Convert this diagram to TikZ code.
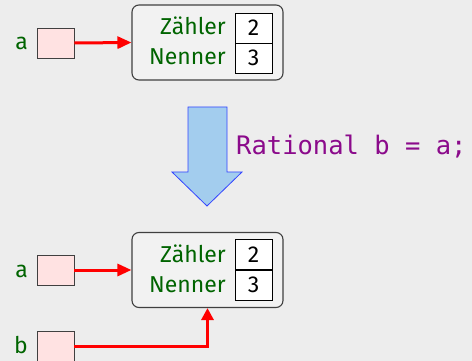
\documentclass[tikz,border=0pt]{standalone}
\usepackage{fontspec}
\setsansfont{Fira Sans}
\setmonofont{DejaVu Sans Mono}
\usetikzlibrary{arrows.meta}
\definecolor{bgc}{HTML}{EDEDED}
\definecolor{lblc}{HTML}{006400}
\definecolor{ptrc}{HTML}{FFE2E2}
\definecolor{objc}{HTML}{F2F2F2}
\definecolor{codec}{HTML}{8B0A8B}
\definecolor{bigc}{HTML}{A3CDEE}
\definecolor{bigd}{HTML}{3344FF}
\begin{document}
\begin{tikzpicture}[x=1pt,y=-1pt,
  sansf/.style={font=\sffamily\fontsize{23}{23}\selectfont},
  ptr/.style={draw=black!75, fill=ptrc, minimum width=37pt, minimum height=30pt, inner sep=0pt, line width=0.8pt},
  obj/.style={draw=black!75, fill=objc, rounded corners=7pt, minimum width=151pt, minimum height=75pt, inner sep=0pt, line width=1.1pt},
  cell/.style={draw=black, fill=white, minimum width=37pt, minimum height=30pt, inner sep=0pt, line width=0.8pt, sansf, text=black},
  lbl/.style={sansf, text=lblc, inner sep=0pt},
  ref/.style={red, line width=3pt, -{Triangle[length=14pt,width=12pt]}},
  refv/.style={red, line width=3pt, -{Triangle[length=12pt,width=12pt]}},
  bigarrow/.style={draw=bigd, fill=bigc, line width=0.8pt, line join=miter}
]
\fill[bgc] (0,0) rectangle (472,361);
\useasboundingbox (0,0) rectangle (472,361);

% top state
\node[obj] (obj1) at (207.5,42.5) {};
\node[cell] (z1) at (253.5,28) {2};
\node[cell] (n1) at (253.5,58) {3};
\node[lbl, anchor=base east] (zl1) at (226,35) {Zähler};
\node[lbl, anchor=base east] (nl1) at (226,65) {Nenner};
\node[ptr] (a1) at (55.5,43) {};
\node[lbl, anchor=base east] (al1) at (28,50) {a};
\draw[ref] (a1.east) -- (obj1.west);

% transition arrow
\draw[bigarrow] (188,107) -- (227,107) -- (227,172) -- (242,172) -- (207,206) -- (172,172) -- (188,172) -- cycle;
\node[anchor=base west, inner sep=0pt, text=codec, font=\ttfamily\fontsize{25.5}{25.5}\selectfont] (code) at (236,154) {Rational b = a;};

% bottom state
\node[obj] (obj2) at (207.5,270) {};
\node[cell] (z2) at (253.5,254.5) {2};
\node[cell] (n2) at (253.5,285) {3};
\node[lbl, anchor=base east] (zl2) at (226,262) {Zähler};
\node[lbl, anchor=base east] (nl2) at (226,292) {Nenner};
\node[ptr] (a2) at (55.5,270) {};
\node[lbl, anchor=base east] (al2) at (28,277) {a};
\draw[ref] (a2.east) -- (obj2.west);
\node[ptr] (b2) at (55.5,346) {};
\node[lbl, anchor=base east] (bl2) at (28,353) {b};
\draw[refv] (b2.east) -| (obj2.south);
\end{tikzpicture}
\end{document}
